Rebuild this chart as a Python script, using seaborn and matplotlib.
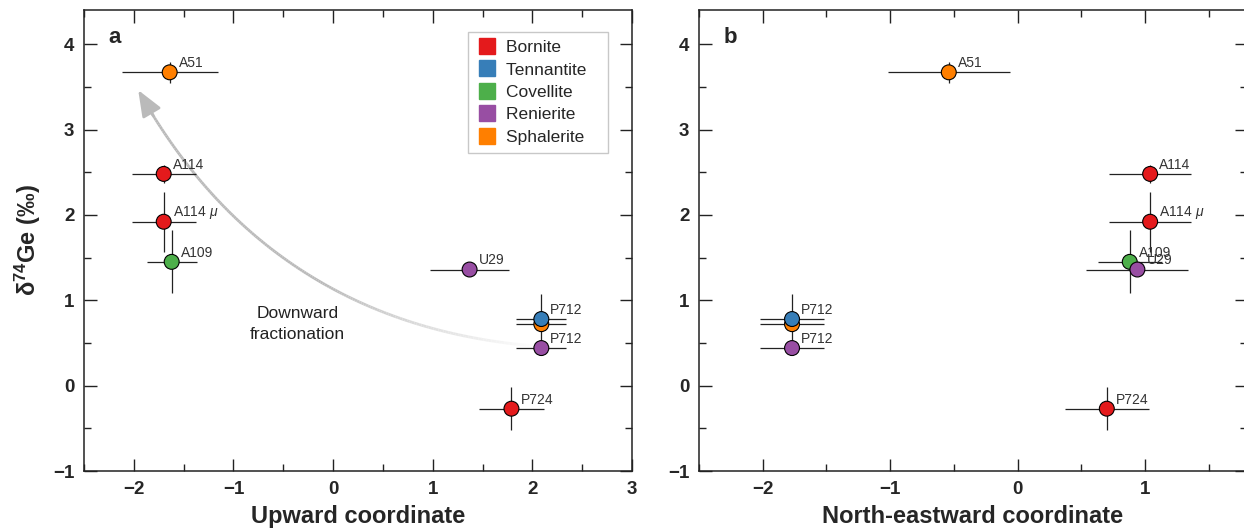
import numpy as np
import pandas as pd
import matplotlib.pyplot as plt
import seaborn as sns
from matplotlib.lines import Line2D
from matplotlib.patches import FancyArrowPatch
from matplotlib.collections import LineCollection
from matplotlib.ticker import MultipleLocator, FixedLocator

# --- Datos ---
samples = ["A51", "A114", "A114 $\\mu$", "A109", "U29", "", "P712", "P712", "P724"]
minerals = ["Sphalerite", "Bornite", "Bornite", "Covellite", "Renierite",
            "Sphalerite", "Tennantite", "Renierite", "Bornite"]
upward = [-1.64, -1.70, -1.70, -1.62, 1.37, 2.09, 2.09, 2.09, 1.79]
northeast = [-0.54, 1.04, 1.04, 0.88, 0.94, -1.77, -1.77, -1.77, 0.70]
d74ge = [3.67, 2.48, 1.92, 1.45, 1.36, 0.72, 0.78, 0.44, -0.27]
xerr = [0.48, 0.32, 0.32, 0.25, 0.40, 0.25, 0.25, 0.25, 0.33]
yerr = [0.12, 0.11, 0.35, 0.37, 0.05, 0.05, 0.29, 0.05, 0.25]

legend_order = ["Bornite", "Tennantite", "Covellite", "Renierite", "Sphalerite"]
colores = dict(zip(legend_order, sns.color_palette("Set1", 5)))

df = pd.DataFrame({"sample": samples, "mineral": minerals, "up": upward,
                   "ne": northeast, "d74": d74ge, "xerr": xerr, "yerr": yerr})

sns.set_style("ticks")
plt.rcParams["font.family"] = ["Liberation Sans", "DejaVu Sans"]
plt.rcParams["mathtext.fontset"] = "custom"
plt.rcParams["mathtext.rm"] = "Liberation Sans:bold"
plt.rcParams["mathtext.it"] = "Liberation Sans:italic"

fig = plt.figure(figsize=(12.44, 5.32), dpi=100)
ax1 = fig.add_axes([84 / 1244, 61 / 532, 548 / 1244, 461 / 532])
ax2 = fig.add_axes([699 / 1244, 61 / 532, 548 / 1244, 461 / 532])


def panel(ax, xcol, xlim, xlabel, letter):
    ax.errorbar(df[xcol], df["d74"], xerr=df["xerr"], yerr=df["yerr"], fmt="none",
                ecolor="#222222", elinewidth=0.9, capsize=0, zorder=2)
    sns.scatterplot(data=df, x=xcol, y="d74", hue="mineral", palette=colores,
                    s=115, edgecolor="black", linewidth=0.8, legend=False,
                    ax=ax, zorder=3)
    for _, r in df.iterrows():
        if r["sample"]:
            ax.annotate(r["sample"], (r[xcol], r["d74"]), xytext=(6.5, 6.5),
                        textcoords="offset points", fontsize=10, color="#333333",
                        ha="left", va="center", zorder=4)
    ax.set_xlim(*xlim)
    ax.set_ylim(-1, 4.4)
    ax.xaxis.set_minor_locator(MultipleLocator(0.5))
    ax.yaxis.set_major_locator(MultipleLocator(1))
    ax.yaxis.set_minor_locator(MultipleLocator(0.5))
    ax.tick_params(which="both", direction="in", top=True, right=True,
                   labelsize=13.5, width=1, color="#222222")
    ax.tick_params(which="major", length=9, pad=7)
    ax.tick_params(which="minor", length=5)
    for s in ax.spines.values():
        s.set_linewidth(1.1)
        s.set_color("#222222")
    ax.set_xlabel(xlabel, fontsize=17, fontweight="bold", labelpad=5)
    ax.set_ylabel("")
    ax.text(0.045, 0.94, letter, transform=ax.transAxes, fontsize=16,
            fontweight="bold", va="center")


panel(ax1, "up", (-2.5, 3), "Upward coordinate", "a")
panel(ax2, "ne", (-2.5, 1.8), "North-eastward coordinate", "b")
ax1.xaxis.set_major_locator(FixedLocator([-2, -1, 0, 1, 2, 3]))
ax2.xaxis.set_major_locator(FixedLocator([-2, -1, 0, 1]))
for ax in (ax1, ax2):
    for lab in ax.get_xticklabels() + ax.get_yticklabels():
        lab.set_fontweight("bold")
ax1.set_ylabel("δ$^{74}$Ge (‰)", fontsize=17, fontweight="bold", labelpad=7)

# Flecha curva con degradado
tail, head = np.array([2.07, 0.46]), np.array([-1.97, 3.49])
rad = -0.27
p0, p2 = ax1.transData.transform(tail), ax1.transData.transform(head)
d = p2 - p0
c = (p0 + p2) / 2 + rad * np.array([d[1], -d[0]])
t = np.linspace(0, 1, 200)[:, None]
curva = (1 - t) ** 2 * p0 + 2 * t * (1 - t) * c + t ** 2 * p2
curva = ax1.transData.inverted().transform(curva)
segs = np.stack([curva[:-1], curva[1:]], axis=1)
w = np.clip(t[:-1, 0] / 0.45, 0, 1)
gris = 0.73
cols = [(1 - wi * (1 - gris),) * 3 for wi in w]
ax1.add_collection(LineCollection(segs[:-8], colors=cols[:-8], linewidths=2, zorder=1))
punta = FancyArrowPatch(tuple(curva[-14]), tuple(head),
                        arrowstyle="-|>,head_length=1.0,head_width=0.4",
                        mutation_scale=16, color=(gris,) * 3, lw=2, zorder=1)
ax1.add_patch(punta)
ax1.text(-0.36, 0.72, "Downward\nfractionation", ha="center", va="center",
         fontsize=12.5, color="#222222", linespacing=1.45)

# Leyenda
handles = [Line2D([], [], marker="s", ls="", markersize=11.5, markerfacecolor=colores[m],
                  markeredgecolor=colores[m], label=m + "   ") for m in legend_order]
ax1.legend(handles=handles, loc="upper right", bbox_to_anchor=(0.957, 0.952),
           fontsize=12.5, frameon=True, fancybox=False, edgecolor="#bbbbbb",
           handletextpad=0.5, borderpad=0.45, labelspacing=0.42, handlelength=1.2,
           borderaxespad=0)

fig.savefig("out.png", dpi=100)
